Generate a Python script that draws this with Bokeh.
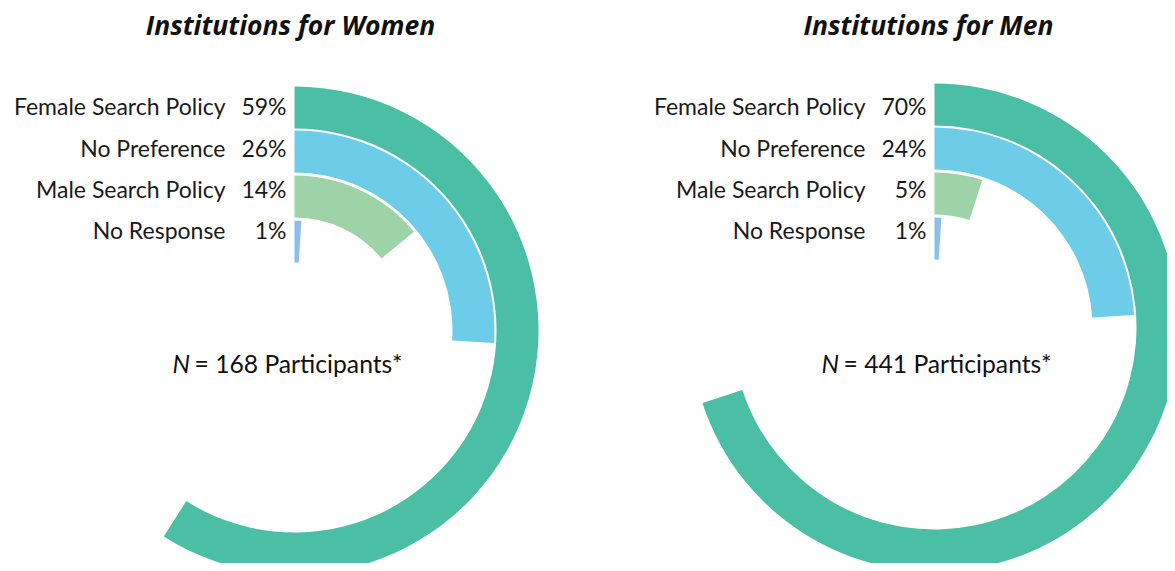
import math
from bokeh.plotting import figure
from bokeh.models import Range1d
from bokeh.embed import file_html
from bokeh.resources import INLINE
from bokeh.core.properties import value

# ---- data ----
categories = ["Female Search Policy", "No Preference", "Male Search Policy", "No Response"]
women_pct = [59, 26, 14, 1]
men_pct = [70, 24, 5, 1]
titles = ["Institutions for Women", "Institutions for Men"]
participants = [168, 441]
colors = ["#4bbfa5", "#6dcde9", "#9dd3a7", "#8cbfea"]

# ---- layout (screen pixel coordinates of the reference) ----
W, H = 1167, 563
PAGE_H = 571
FONT = "Lato"
TFONT = "Open Sans"
TEXT_SHIFT = 9

def sy(y):
    return PAGE_H - y

def ty(y):
    return PAGE_H - (y - TEXT_SHIFT)

centers = [(294, 330), (934, 327)]
outer_r = [244, 200, 155, 110]
ring_w = 42
title_x = [290, 928]
title_base = 33
label_base = [114.5, 156, 197.5, 238.5]
n_left = [172, 821]
n_base = 372

p = figure(width=W, height=H, x_range=Range1d(0, W), y_range=Range1d(PAGE_H - H, PAGE_H),
           output_backend="svg", toolbar_location=None, min_border=0)
p.axis.visible = False
p.grid.visible = False
p.outline_line_color = None
p.background_fill_color = "white"
p.border_fill_color = "white"

for k, pcts in enumerate([women_pct, men_pct]):
    cx, cy = centers[k]
    xs = [cx] * len(pcts)
    ys = [sy(cy)] * len(pcts)
    start = [math.pi / 2] * len(pcts)
    end = [math.pi / 2 - v / 100 * 2 * math.pi for v in pcts]
    p.annular_wedge(x=xs, y=ys, inner_radius=[r - ring_w for r in outer_r], outer_radius=outer_r,
                    start_angle=start, end_angle=end, direction="clock",
                    fill_color=colors, line_color=None)
    # category labels
    p.text(x=[cx - 69] * len(categories), y=[ty(b) for b in label_base], text=categories,
           text_align="right", text_baseline="alphabetic", text_font=value(FONT),
           text_font_size="23px", text_color="#1a1a1a")
    p.text(x=[cx - 8] * len(pcts), y=[ty(b) for b in label_base], text=[f"{v}%" for v in pcts],
           text_align="right", text_baseline="alphabetic", text_font=value(FONT),
           text_font_size="23px", text_color="#1a1a1a")
    # title
    p.text(x=[title_x[k]], y=[ty(title_base)], text=[titles[k]], text_align="center",
           text_baseline="alphabetic", text_font=value(TFONT), text_font_size="26.5px",
           text_font_style="bold italic", text_color="#111111")
    # N line
    p.text(x=[n_left[k]], y=[ty(n_base)], text=["N"], text_align="left",
           text_baseline="alphabetic", text_font=value(FONT), text_font_size="24.7px",
           text_font_style="italic", text_color="#111111")
    p.text(x=[n_left[k] + 22], y=[ty(n_base)], text=[f"= {participants[k]} Participants*"],
           text_align="left", text_baseline="alphabetic", text_font=value(FONT),
           text_font_size="24.7px", text_color="#111111")

open("out.html", "w").write(file_html(p, INLINE))
